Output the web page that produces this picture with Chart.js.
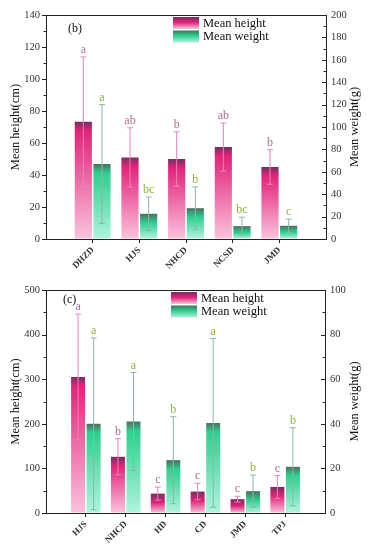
<!DOCTYPE html>
<html>
<head>
<meta charset="utf-8">
<script src="https://cdn.jsdelivr.net/npm/chart.js@4.4.1/dist/chart.umd.min.js"></script>
<style>
  html, body { margin: 0; padding: 0; background: #fff; }
  #wrap { position: relative; width: 370px; height: 550px; }
  .box { position: absolute; left: 0; width: 370px; height: 275px; }
</style>
</head>
<body>
<div id="wrap">
  <div class="box" style="top:0"><canvas id="chartB"></canvas></div>
  <div class="box" style="top:275px"><canvas id="chartC"></canvas></div>
</div>
<script>
// panel (b)
const sitesB = ['DHZD', 'HJS', 'NHCD', 'NCSD', 'JMD'];
const heightB = [73.3, 51, 50, 57.5, 45];
const heightSdB = [40.5, 18.5, 17, 15, 10.8];
const heightLetB = ['a', 'ab', 'b', 'ab', 'b'];
const weightB = [67, 22.5, 27.5, 11.5, 11.8];
const weightSdB = [53, 15, 19, 8, 6];
const weightLetB = ['a', 'bc', 'b', 'bc', 'c'];

// panel (c)
const sitesC = ['HJS', 'NHCD', 'HD', 'CD', 'JMD', 'TPJ'];
const heightC = [305, 126, 43.5, 48, 31, 58.5];
const heightSdC = [141, 40.5, 14.5, 18.5, 6.5, 25.5];
const heightLetC = ['a', 'b', 'c', 'c', 'c', 'c'];
const weightC = [40, 41, 23.7, 40.4, 9.8, 20.7];
const weightSdC = [38.5, 22, 19.5, 37.8, 7.2, 17.5];
const weightLetC = ['a', 'a', 'b', 'a', 'b', 'b'];

const SERIF = '"Liberation Serif", "Times New Roman", serif';
const pinkStops = ['#6b3460', '#e3237a', '#fbc2dc'];
const greenStops = ['#4f6b60', '#2fcf8e', '#aff5df'];

// pad the category list so the bars sit one slot in from each axis
const pad = arr => [null, ...arr, null];

function barFill(stops) {
  return function (ctx) {
    const chart = ctx.chart;
    if (!chart.chartArea || ctx.raw == null) return stops[1];
    const scale = chart.scales[ctx.dataset.yAxisID];
    const top = scale.getPixelForValue(ctx.raw);
    const base = scale.getPixelForValue(0);
    const h = Math.max(base - top, 1);
    const g = chart.ctx.createLinearGradient(0, top, 0, base);
    g.addColorStop(0, stops[0]);
    g.addColorStop(Math.min(0.5, 9 / h), stops[1]);
    g.addColorStop(1, stops[2]);
    return g;
  };
}

const decor = {
  id: 'decor',
  afterDatasetsDraw(chart) {
    const ctx = chart.ctx;
    chart.data.datasets.forEach((ds, i) => {
      const meta = chart.getDatasetMeta(i);
      const scale = chart.scales[ds.yAxisID];
      meta.data.forEach((bar, j) => {
        const v = ds.data[j];
        if (v == null) return;
        const x = bar.x;
        const yHi = scale.getPixelForValue(v + ds.sd[j]);
        const yLo = scale.getPixelForValue(Math.max(v - ds.sd[j], 0));
        ctx.save();
        ctx.strokeStyle = ds.errColor;
        ctx.lineWidth = 1;
        ctx.beginPath();
        ctx.moveTo(x, yHi); ctx.lineTo(x, yLo);
        ctx.moveTo(x - 3, yHi); ctx.lineTo(x + 3, yHi);
        ctx.moveTo(x - 3, yLo); ctx.lineTo(x + 3, yLo);
        ctx.stroke();
        ctx.fillStyle = ds.letColor;
        ctx.font = '12px ' + SERIF;
        ctx.textAlign = 'center';
        ctx.textBaseline = 'bottom';
        ctx.fillText(ds.letters[j], x, yHi - 1);
        ctx.restore();
      });
    });
  },
  afterDraw(chart, args, opts) {
    const ctx = chart.ctx;
    const a = chart.chartArea;
    ctx.save();
    ctx.strokeStyle = '#222';
    ctx.lineWidth = 1;
    // top frame line
    ctx.beginPath();
    ctx.moveTo(a.left, a.top + 0.5);
    ctx.lineTo(a.right, a.top + 0.5);
    ctx.stroke();
    // y ticks: left outward, right inward, with minor ticks
    [['y', -1], ['y1', -1]].forEach(([id]) => {
      const s = chart.scales[id];
      const vals = s.ticks.map(t => t.value);
      const step = vals[1] - vals[0];
      const xAxis = id === 'y' ? a.left : a.right;
      const dir = id === 'y' ? -1 : -1;
      ctx.beginPath();
      vals.forEach(v => {
        const y = Math.round(s.getPixelForValue(v)) + 0.5;
        ctx.moveTo(xAxis, y); ctx.lineTo(xAxis + dir * 4, y);
        if (v + step / 2 <= s.max) {
          const ym = Math.round(s.getPixelForValue(v + step / 2)) + 0.5;
          ctx.moveTo(xAxis, ym); ctx.lineTo(xAxis + dir * 2.5, ym);
        }
      });
      ctx.stroke();
    });
    // right axis title
    ctx.fillStyle = '#111';
    ctx.font = '12.5px ' + SERIF;
    ctx.textAlign = 'center';
    ctx.textBaseline = 'middle';
    ctx.translate(opts.rightTitleX, (a.top + a.bottom) / 2);
    ctx.rotate(-Math.PI / 2);
    ctx.fillText('Mean weight(g)', 0, 0);
    ctx.setTransform(1, 0, 0, 1, 0, 0);
    // panel label
    ctx.font = '12px ' + SERIF;
    ctx.textAlign = 'left';
    ctx.fillText(opts.panel, opts.panelX, opts.panelY);
    // legend
    const lx = opts.legendX, ly = opts.legendY;
    [[pinkStops, 'Mean height'], [greenStops, 'Mean weight']].forEach(([stops, txt], k) => {
      const y0 = ly + k * 13.5;
      const g = ctx.createLinearGradient(0, y0, 0, y0 + 12);
      g.addColorStop(0, stops[0]);
      g.addColorStop(0.45, stops[1]);
      g.addColorStop(1, stops[2]);
      ctx.fillStyle = g;
      ctx.fillRect(lx, y0, 26, 12);
      ctx.fillStyle = '#111';
      ctx.font = '12.5px ' + SERIF;
      ctx.textBaseline = 'middle';
      ctx.fillText(txt, lx + 30, y0 + 6.5);
    });
    ctx.restore();
  }
};

function makeChart(id, sites, h, hSd, hLet, w, wSd, wLet, cfg) {
  const labels = ['', ...sites, ''];
  const last = labels.length - 1;
  return new Chart(document.getElementById(id), {
    type: 'bar',
    data: {
      labels: labels,
      datasets: [{
        label: 'Mean height',
        data: pad(h),
        sd: pad(hSd),
        letters: pad(hLet),
        errColor: '#e784b6',
        letColor: '#a9708f',
        yAxisID: 'y',
        backgroundColor: barFill(pinkStops),
        categoryPercentage: cfg.cp,
        barPercentage: cfg.bp
      }, {
        label: 'Mean weight',
        data: pad(w),
        sd: pad(wSd),
        letters: pad(wLet),
        errColor: '#8fb5a6',
        letColor: '#8db43c',
        yAxisID: 'y1',
        backgroundColor: barFill(greenStops),
        categoryPercentage: cfg.cp,
        barPercentage: cfg.bp
      }]
    },
    options: {
      responsive: true,
      maintainAspectRatio: false,
      animation: false,
      layout: { padding: { top: 15, left: 0, right: 0, bottom: 0 } },
      plugins: {
        legend: { display: false },
        tooltip: { enabled: false },
        decor: cfg.decor
      },
      scales: {
        x: {
          offset: false,
          grid: {
            offset: false,
            drawOnChartArea: false,
            tickLength: 4,
            color: c => (c.index === 0 || c.index === last) ? 'rgba(0,0,0,0)' : '#222'
          },
          border: { color: '#222' },
          ticks: {
            autoSkip: false,
            minRotation: 45,
            maxRotation: 45,
            padding: 2,
            color: '#333',
            font: { family: SERIF, size: 9, weight: 'bold' }
          },
          afterFit: s => { s.height = cfg.xHeight; }
        },
        y: {
          position: 'left',
          min: 0,
          max: cfg.hMax,
          grid: { drawOnChartArea: false, drawTicks: false },
          border: { color: '#222' },
          ticks: { stepSize: cfg.hStep, padding: 6, color: '#333', font: { family: SERIF, size: 10.5 } },
          title: {
            display: true,
            text: 'Mean height(cm)',
            color: '#111',
            padding: { top: 8, bottom: 0 },
            font: { family: SERIF, size: 12.5 }
          },
          afterFit: s => { s.width = 46; }
        },
        y1: {
          position: 'right',
          min: 0,
          max: cfg.wMax,
          grid: { drawOnChartArea: false, drawTicks: false },
          border: { color: '#222' },
          ticks: { stepSize: cfg.wStep, padding: 5, color: '#333', font: { family: SERIF, size: 10.5 } },
          afterFit: s => { s.width = cfg.rightWidth; }
        }
      }
    },
    plugins: [decor]
  });
}

makeChart('chartB', sitesB, heightB, heightSdB, heightLetB, weightB, weightSdB, weightLetB, {
  cp: 0.8, bp: 0.92, xHeight: 36, rightWidth: 44,
  hMax: 140, hStep: 20, wMax: 200, wStep: 20,
  decor: { panel: '(b)', panelX: 68, panelY: 29, legendX: 173, legendY: 17, rightTitleX: 355 }
});

makeChart('chartC', sitesC, heightC, heightSdC, heightLetC, weightC, weightSdC, weightLetC, {
  cp: 0.78, bp: 0.9, xHeight: 37, rightWidth: 45,
  hMax: 500, hStep: 100, wMax: 100, wStep: 20,
  decor: { panel: '(c)', panelX: 63, panelY: 25, legendX: 171, legendY: 17, rightTitleX: 355 }
});
</script>
</body>
</html>
